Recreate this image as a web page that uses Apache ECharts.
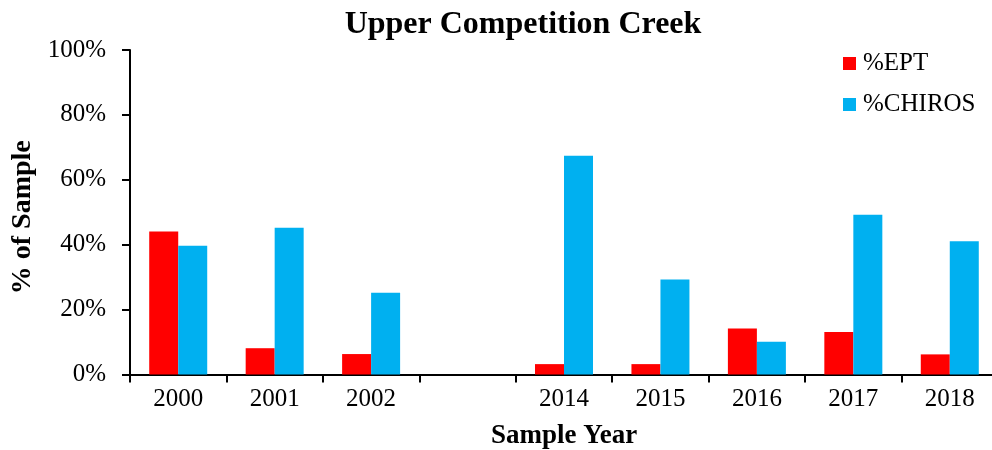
<!DOCTYPE html>
<html>
<head>
<meta charset="utf-8">
<script src="https://cdn.jsdelivr.net/npm/echarts@6/dist/echarts.min.js"></script>
<style>
  html, body { margin: 0; padding: 0; background: #fff; }
  #chart { width: 992px; height: 450px; }
</style>
</head>
<body>
<div id="chart"></div>
<script>
// sample years (blank slot marks the gap between 2002 and 2014)
const years = ['2000', '2001', '2002', '', '2014', '2015', '2016', '2017', '2018']
const eptPct = [44.1, 8.1, 6.3, null, 3.2, 3.2, 14.2, 13.1, 6.2]
const chirosPct = [39.7, 45.2, 25.2, null, 67.4, 29.3, 10.1, 49.2, 41.1]

const serif = '"Liberation Serif", "Times New Roman", serif'

const chart = echarts.init(document.getElementById('chart'))
chart.setOption({
  animation: false,
  textStyle: { fontFamily: serif, color: '#000' },
  title: {
    text: 'Upper Competition Creek',
    left: 518,
    textAlign: 'center',
    top: 4,
    textStyle: { fontFamily: serif, fontSize: 32, fontWeight: 'bold', color: '#000' }
  },
  legend: {
    orient: 'vertical',
    left: 838,
    top: 46,
    itemWidth: 13,
    itemHeight: 13,
    itemGap: 16,
    icon: 'rect',
    textStyle: { fontFamily: serif, fontSize: 25, lineHeight: 25, color: '#000', padding: [0, 0, 0, 2] },
    data: ['%EPT', '%CHIROS']
  },
  grid: { left: 130, top: 50, width: 868, height: 324.5, outerBoundsMode: 'none' },
  xAxis: {
    type: 'category',
    data: years,
    name: 'Sample Year',
    nameLocation: 'middle',
    nameGap: 48,
    nameTextStyle: { fontFamily: serif, fontSize: 27, fontWeight: 'bold', color: '#000' },
    axisLine: { lineStyle: { color: '#000', width: 2 } },
    axisTick: { show: true, length: 8, lineStyle: { color: '#000', width: 2 } },
    axisLabel: { fontFamily: serif, fontSize: 25, color: '#000', margin: 12 }
  },
  yAxis: {
    type: 'value',
    min: 0,
    max: 100,
    interval: 20,
    name: '% of Sample',
    nameLocation: 'middle',
    nameGap: 91,
    nameTextStyle: { fontFamily: serif, fontSize: 28, fontWeight: 'bold', color: '#000', padding: [0, 10, 0, 0] },
    splitLine: { show: false },
    axisLine: { show: true, lineStyle: { color: '#000', width: 2 } },
    axisTick: { show: true, length: 8, lineStyle: { color: '#000', width: 2 } },
    axisLabel: { fontFamily: serif, fontSize: 25, color: '#000', margin: 24, formatter: '{value}%' }
  },
  series: [
    {
      name: '%EPT',
      type: 'bar',
      data: eptPct,
      barWidth: 29,
      barGap: '0%',
      itemStyle: { color: '#ff0000' }
    },
    {
      name: '%CHIROS',
      type: 'bar',
      data: chirosPct,
      barWidth: 29,
      barGap: '0%',
      itemStyle: { color: '#00b0f0' }
    }
  ]
})
</script>
</body>
</html>
